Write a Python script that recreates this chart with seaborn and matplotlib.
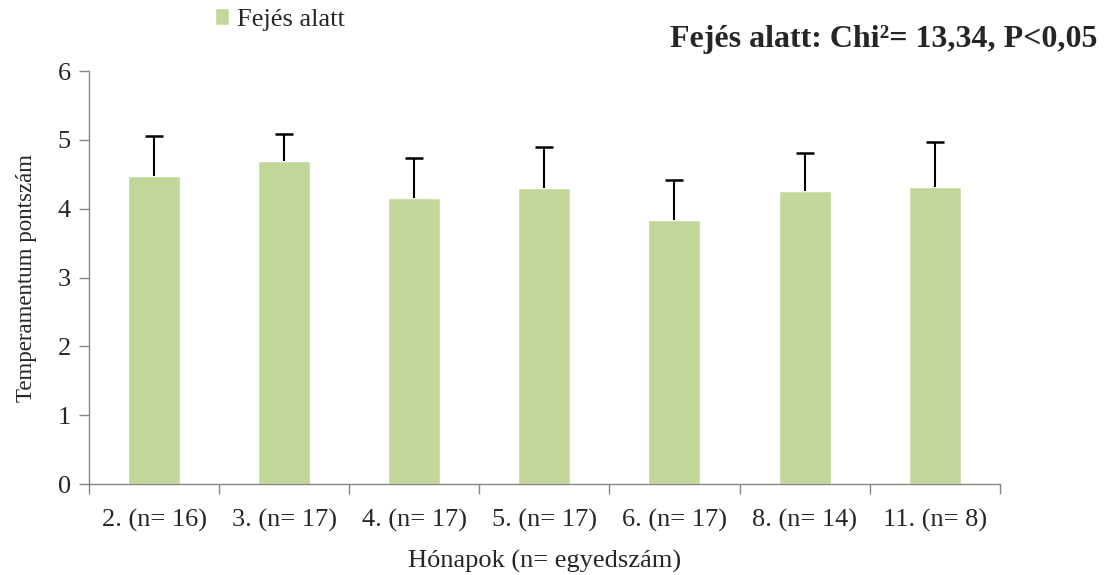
import pandas as pd
import matplotlib.pyplot as plt
import seaborn as sns

months = ["2. (n= 16)", "3. (n= 17)", "4. (n= 17)", "5. (n= 17)",
          "6. (n= 17)", "8. (n= 14)", "11. (n= 8)"]
means = [4.48, 4.69, 4.15, 4.30, 3.83, 4.26, 4.32]
errors = [0.57, 0.40, 0.59, 0.59, 0.58, 0.55, 0.65]

df = pd.DataFrame({"month": months, "score": means, "err": errors})
df["top"] = df["score"] + df["err"]

sns.set_style("white")
plt.rcParams["font.family"] = ["Liberation Serif", "DejaVu Serif"]

fig = plt.figure(figsize=(11.08, 5.75), dpi=100)
ax = fig.add_axes([0.0803, 0.158, 0.822, 0.7185])

bar_color = "#c4d79b"
sns.barplot(ax=ax, data=df, x="month", y="score", color=bar_color,
            width=0.4, saturation=1, errorbar=None, label="Fejés alatt")
# upper-only error bars
xs = list(range(len(months)))
ax.vlines(xs, df["score"], df["top"], colors="black", linewidth=1.5)
ax.plot(xs, df["top"], linestyle="none", marker="_", markersize=13,
        markeredgewidth=1.8, color="black")

ax.set_ylim(0, 6)
ax.set_xlim(-0.5, len(months) - 0.5)
ax.set_yticks(range(7))
ax.tick_params(axis="y", labelsize=19, length=7, color="#868686", width=1, left=True, pad=6)
ax.tick_params(axis="x", which="major", labelsize=19, length=0, pad=18)
ax.set_xticks([i - 0.5 for i in range(len(months) + 1)], minor=True)
ax.tick_params(axis="x", which="minor", length=7, color="#868686", width=1, bottom=True)

for side in ["top", "right"]:
    ax.spines[side].set_visible(False)
for side in ["left", "bottom"]:
    ax.spines[side].set_color("#868686")
    ax.spines[side].set_linewidth(1)

ax.set_ylabel("Temperamentum pontszám", fontsize=16.5, labelpad=15)
ax.set_xlabel("Hónapok (n= egyedszám)", fontsize=19, labelpad=13)

leg = ax.legend(loc="upper left", bbox_to_anchor=(0.112, 1.21), frameon=False,
                fontsize=19, handlelength=0.55, handleheight=0.6, handletextpad=0.3)

fig.text(0.99, 0.932, "Fejés alatt: Chi²= 13,34, P<0,05", ha="right", va="center",
         fontsize=23, fontweight="bold")

fig.savefig("out.png", dpi=100)
